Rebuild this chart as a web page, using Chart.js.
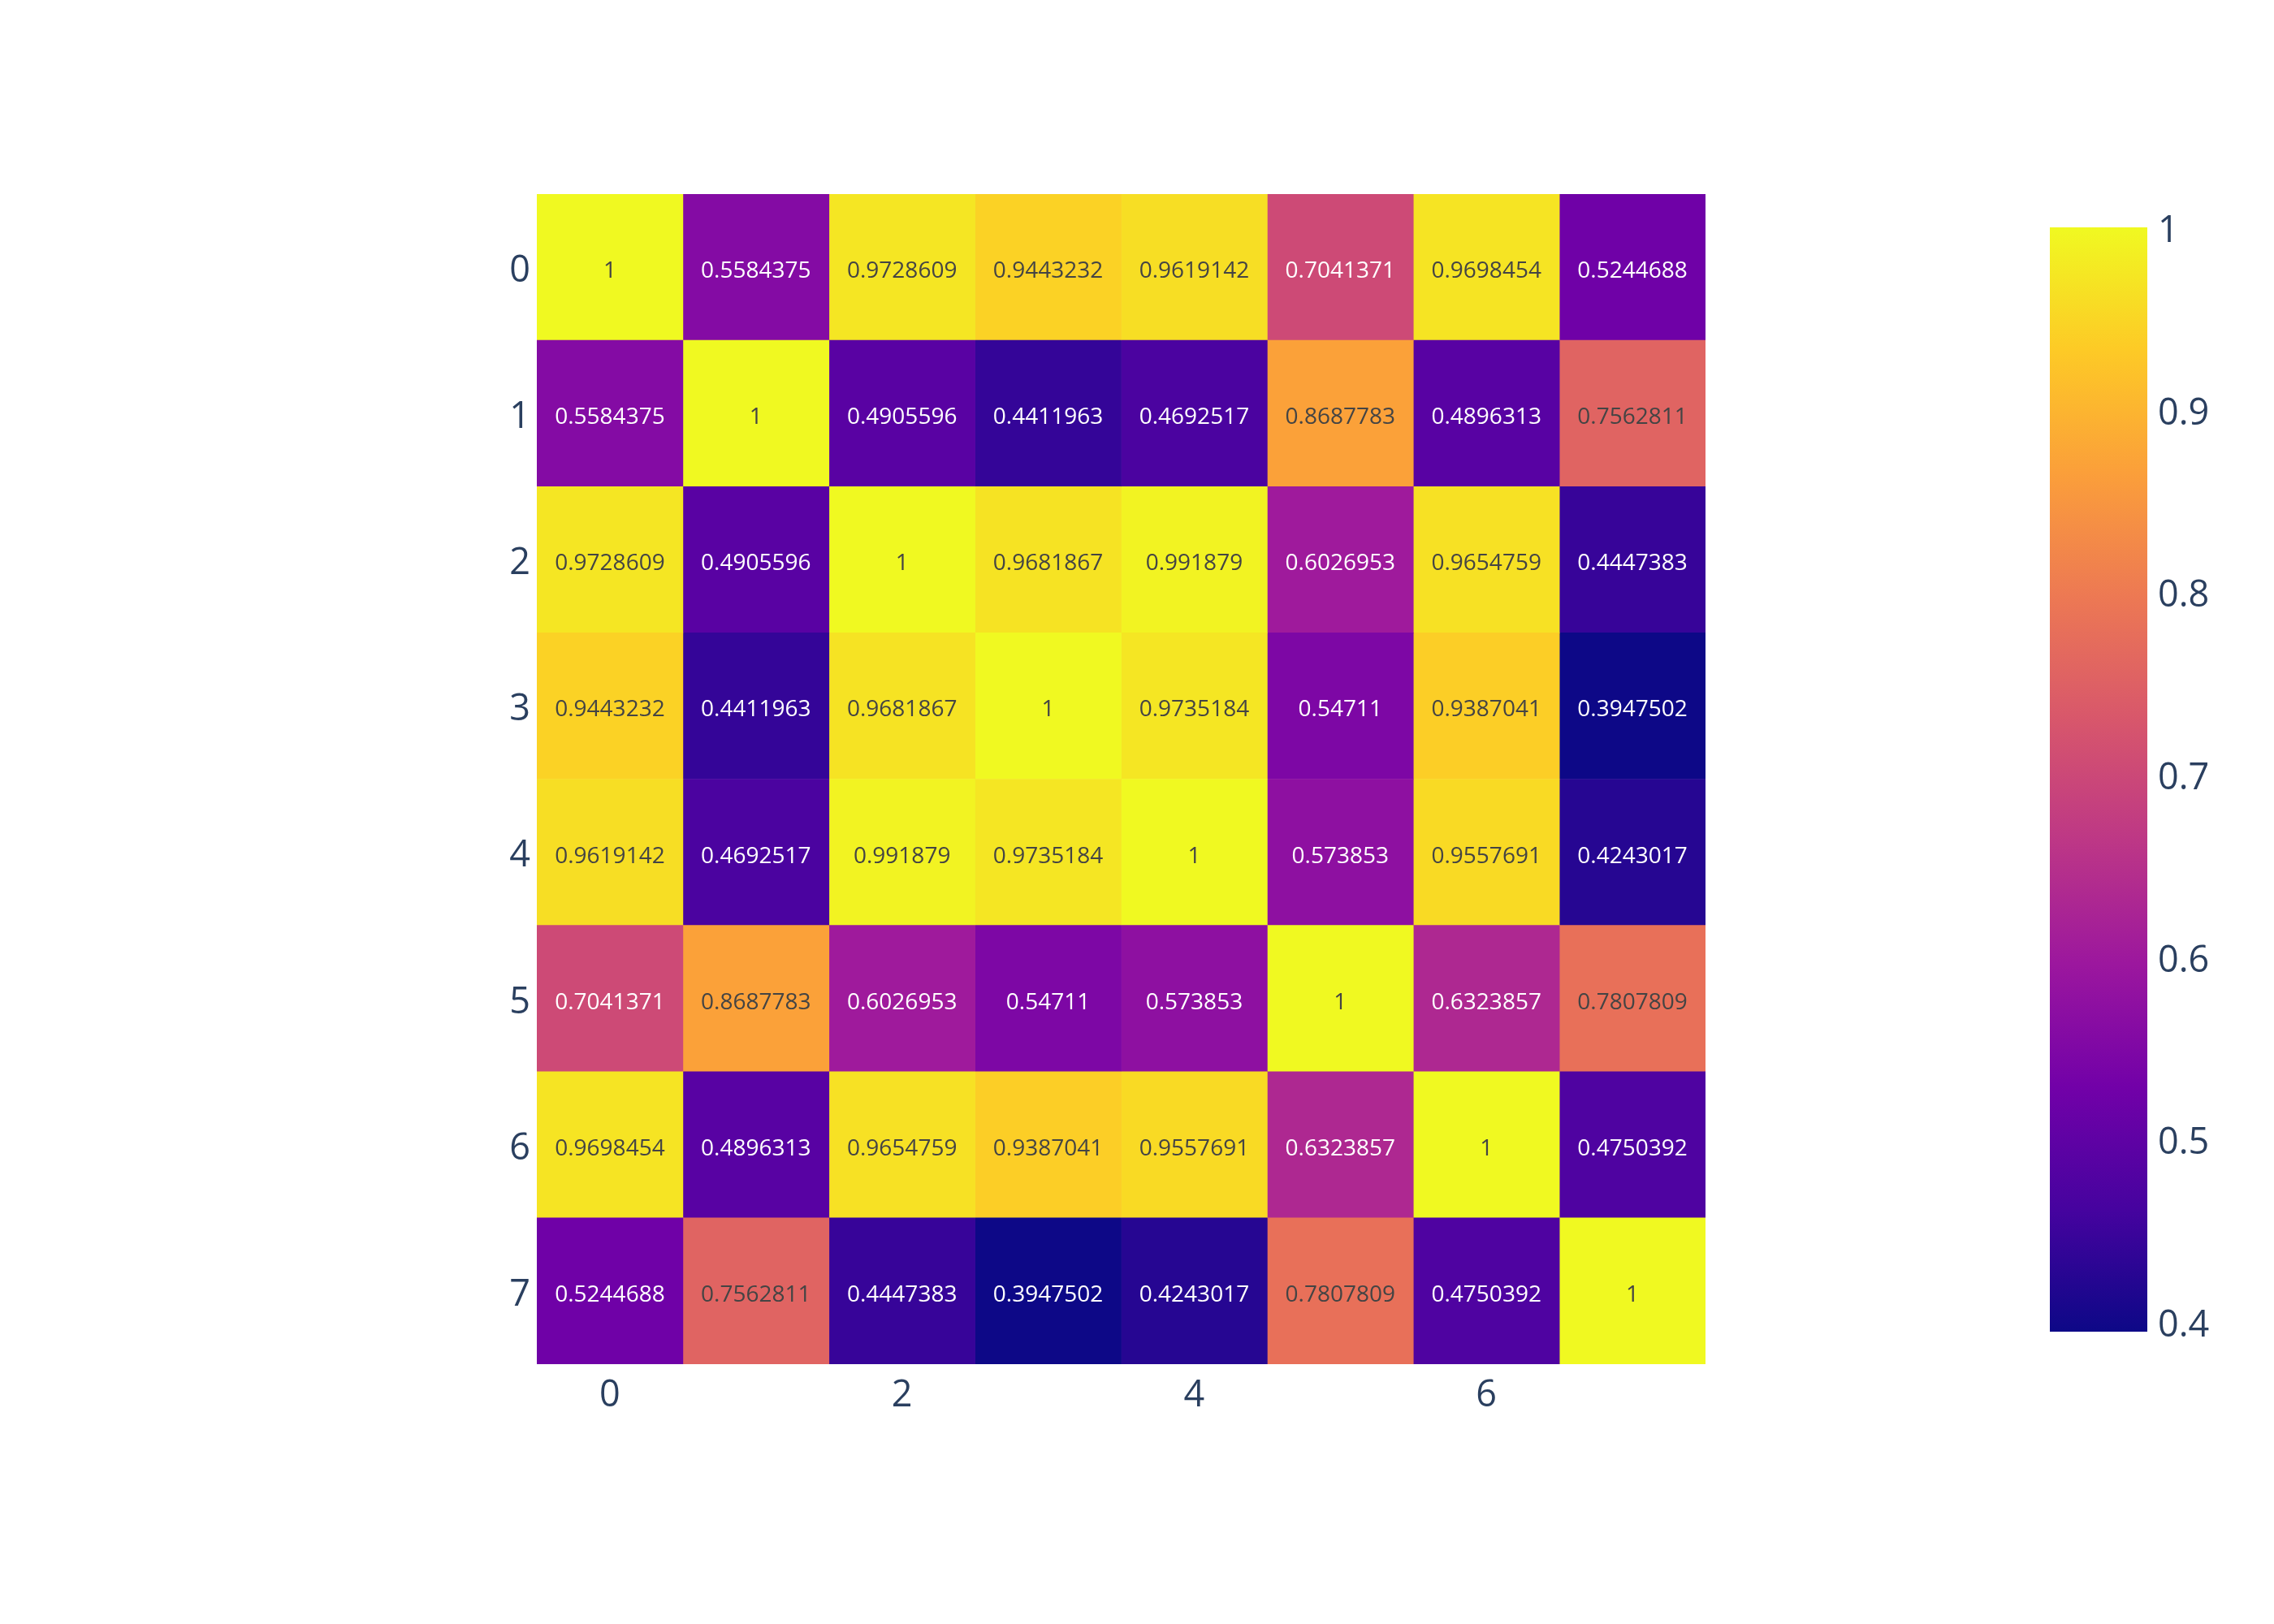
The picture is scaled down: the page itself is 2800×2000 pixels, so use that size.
<!DOCTYPE html>
<html>
<head>
<meta charset="utf-8">
<script src="https://cdn.jsdelivr.net/npm/chart.js@4.4.1/dist/chart.umd.min.js"></script>
<style>
  html, body { margin: 0; padding: 0; background: #fff; }
  body { width: 2800px; height: 2000px; position: relative; overflow: hidden; }
  canvas { position: absolute; top: 0; }
  #heat { left: 0; }
  #bar { left: 2400px; }
</style>
</head>
<body>
<canvas id="heat" width="2300" height="2000"></canvas>
<canvas id="bar" width="400" height="2000"></canvas>
<script>
const rowLabels = ["0", "1", "2", "3", "4", "5", "6", "7"];
const colLabels = ["0", "1", "2", "3", "4", "5", "6", "7"];
const xTicks = [0, 2, 4, 6];
const colorTicks = [0.4, 0.5, 0.6, 0.7, 0.8, 0.9, 1];

const r0 = [1, 0.5584375, 0.9728609, 0.9443232, 0.9619142, 0.7041371, 0.9698454, 0.5244688];
const r1 = [0.5584375, 1, 0.4905596, 0.4411963, 0.4692517, 0.8687783, 0.4896313, 0.7562811];
const r2 = [0.9728609, 0.4905596, 1, 0.9681867, 0.991879, 0.6026953, 0.9654759, 0.4447383];
const r3 = [0.9443232, 0.4411963, 0.9681867, 1, 0.9735184, 0.54711, 0.9387041, 0.3947502];
const r4 = [0.9619142, 0.4692517, 0.991879, 0.9735184, 1, 0.573853, 0.9557691, 0.4243017];
const r5 = [0.7041371, 0.8687783, 0.6026953, 0.54711, 0.573853, 1, 0.6323857, 0.7807809];
const r6 = [0.9698454, 0.4896313, 0.9654759, 0.9387041, 0.9557691, 0.6323857, 1, 0.4750392];
const r7 = [0.5244688, 0.7562811, 0.4447383, 0.3947502, 0.4243017, 0.7807809, 0.4750392, 1];
const values = [r0, r1, r2, r3, r4, r5, r6, r7];

const plasma = ["#0d0887", "#46039f", "#7201a8", "#9c179e", "#bd3786",
                "#d8576b", "#ed7953", "#fb9f3a", "#fdca26", "#f0f921"];

const FONT = "'Open Sans', verdana, arial, sans-serif";
const TICK_COLOR = "#2a3f5f";

const zMin = Math.min(...values.flat());
const zMax = Math.max(...values.flat());

function hexRgb(h) {
  const n = parseInt(h.slice(1), 16);
  return [(n >> 16) & 255, (n >> 8) & 255, n & 255];
}

function rgbFor(v) {
  const t = Math.min(1, Math.max(0, (v - zMin) / (zMax - zMin)));
  const pos = t * (plasma.length - 1);
  const i = Math.min(Math.floor(pos), plasma.length - 2);
  const f = pos - i;
  const a = hexRgb(plasma[i]), b = hexRgb(plasma[i + 1]);
  return a.map((x, k) => Math.round(x + (b[k] - x) * f));
}

function colorFor(v) {
  const [r, g, b] = rgbFor(v);
  return `rgb(${r}, ${g}, ${b})`;
}

function textColor(v) {
  const [r, g, b] = rgbFor(v);
  return (r * 299 + g * 587 + b * 114) / 1000 >= 128 ? "#444444" : "#ffffff";
}

// one floating-bar dataset per column, one bar per row
const datasets = colLabels.map((_, c) => ({
  data: rowLabels.map(() => [c - 0.5, c + 0.5]),
  backgroundColor: rowLabels.map((_, r) => colorFor(values[r][c])),
  borderWidth: 0,
  grouped: false,
  categoryPercentage: 1,
  barPercentage: 1,
}));

const cellText = {
  id: "cellText",
  afterDatasetsDraw(chart) {
    const ctx = chart.ctx;
    ctx.save();
    ctx.font = `28px ${FONT}`;
    ctx.textAlign = "center";
    ctx.textBaseline = "middle";
    chart.data.datasets.forEach((ds, c) => {
      chart.getDatasetMeta(c).data.forEach((bar, r) => {
        const v = values[r][c];
        const p = bar.getCenterPoint();
        ctx.fillStyle = textColor(v);
        ctx.fillText(String(v), p.x, p.y + 5);
      });
    });
    ctx.restore();
  }
};

new Chart(document.getElementById("heat"), {
  type: "bar",
  data: { labels: rowLabels, datasets },
  plugins: [cellText],
  options: {
    indexAxis: "y",
    responsive: false,
    animation: false,
    layout: { padding: { left: 561, right: 200, top: 239, bottom: 230 } },
    plugins: { legend: { display: false }, tooltip: { enabled: false } },
    scales: {
      x: {
        type: "linear",
        min: -0.5,
        max: 7.5,
        grid: { display: false, drawTicks: false },
        border: { display: false },
        afterBuildTicks: (axis) => { axis.ticks = xTicks.map(v => ({ value: v })); },
        afterFit: (axis) => { axis.height = 90; },
        ticks: {
          color: TICK_COLOR,
          font: { family: FONT, size: 45 },
          padding: 12,
          callback: (v) => colLabels[v]
        }
      },
      y: {
        type: "category",
        grid: { display: false, drawTicks: false },
        border: { display: false },
        afterFit: (axis) => { axis.width = 100; },
        ticks: {
          color: TICK_COLOR,
          font: { family: FONT, size: 45 },
          padding: 8,
          labelOffset: 5,
          autoSkip: false
        }
      }
    }
  }
});

// colour bar
new Chart(document.getElementById("bar"), {
  type: "bar",
  data: {
    labels: [""],
    datasets: [{
      data: [[zMin, zMax]],
      borderWidth: 0,
      categoryPercentage: 1,
      barPercentage: 1,
      backgroundColor: (ctx) => {
        const chart = ctx.chart;
        if (!chart.chartArea) return plasma[0];
        const y = chart.scales.y;
        const g = chart.ctx.createLinearGradient(0, y.getPixelForValue(zMin), 0, y.getPixelForValue(zMax));
        plasma.forEach((c, i) => g.addColorStop(i / (plasma.length - 1), c));
        return g;
      }
    }]
  },
  options: {
    responsive: false,
    animation: false,
    layout: { padding: { left: 124, right: 6, top: 280, bottom: 360 } },
    plugins: { legend: { display: false }, tooltip: { enabled: false } },
    scales: {
      x: { display: false },
      y: {
        position: "right",
        min: zMin,
        max: zMax,
        grid: { display: false, drawTicks: false },
        border: { display: false },
        afterBuildTicks: (axis) => { axis.ticks = colorTicks.map(v => ({ value: v })); },
        afterFit: (axis) => { axis.width = 150; },
        ticks: {
          color: TICK_COLOR,
          font: { family: FONT, size: 45 },
          padding: 13,
          labelOffset: 5,
          callback: (v) => String(v)
        }
      }
    }
  }
});
</script>
</body>
</html>
